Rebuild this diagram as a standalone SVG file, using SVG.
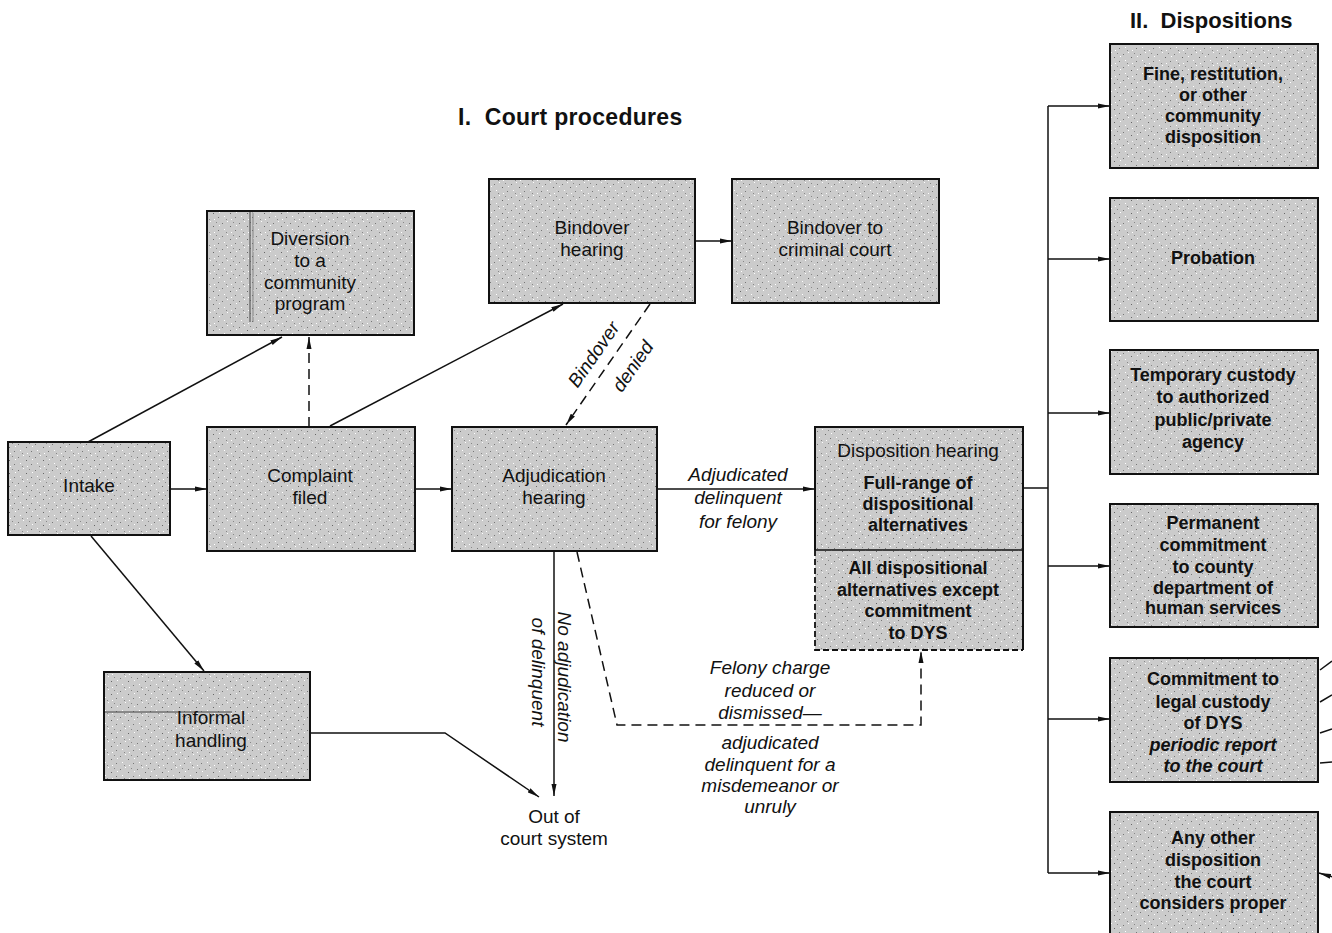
<svg xmlns="http://www.w3.org/2000/svg" width="1332" height="933" viewBox="0 0 1332 933">
<style>
.box{fill:url(#stip);stroke:#111;stroke-width:2}
.t{font-family:"Liberation Sans",Arial,sans-serif;font-size:19px;fill:#111;text-anchor:middle}
.b{font-family:"Liberation Sans",Arial,sans-serif;font-size:18px;font-weight:bold;fill:#111;text-anchor:middle}
.bi{font-style:italic}
.i{font-family:"Liberation Sans",Arial,sans-serif;font-size:19px;font-style:italic;fill:#111;text-anchor:middle}
.h{font-family:"Liberation Sans",Arial,sans-serif;font-size:23px;font-weight:bold;fill:#111;letter-spacing:0.3px;white-space:pre}
.h2{font-size:22px;letter-spacing:0}
.c{fill:none;stroke:#111;stroke-width:1.5}
.d{fill:none;stroke:#111;stroke-width:1.5;stroke-dasharray:10 6}
</style>
<defs>
<pattern id="stip" width="17" height="13" patternUnits="userSpaceOnUse">
<rect width="17" height="13" fill="#cbcbcb"/>
<rect x="1" y="2" width="1" height="1" fill="#777"/>
<rect x="6" y="0" width="1" height="1" fill="#fff"/>
<rect x="9" y="5" width="1" height="1" fill="#666"/>
<rect x="14" y="9" width="1" height="1" fill="#777"/>
<rect x="3" y="8" width="1" height="1" fill="#fff"/>
<rect x="12" y="1" width="1" height="1" fill="#888"/>
<rect x="5" y="11" width="1" height="1" fill="#888"/>
<rect x="15" y="4" width="1" height="1" fill="#fff"/>
<rect x="10" y="11" width="1" height="1" fill="#fff"/>
</pattern>
<marker id="ar" viewBox="0 0 12 6" refX="12" refY="3" markerWidth="12" markerHeight="6" markerUnits="userSpaceOnUse" orient="auto">
<path d="M0,0.5 L12,3 L0,5.5 Z" fill="#111"/>
</marker>
</defs>
<rect width="1332" height="933" fill="#fff"/>

<text class="h" x="458" y="125" xml:space="preserve">I.  Court procedures</text>
<text class="h h2" x="1130" y="28" xml:space="preserve">II.  Dispositions</text>

<g id="connectors">
<line class="c" x1="88" y1="442" x2="282" y2="337" marker-end="url(#ar)"/>
<line class="d" x1="309" y1="427" x2="309" y2="337" marker-end="url(#ar)"/>
<line class="c" x1="170" y1="489" x2="207" y2="489" marker-end="url(#ar)"/>
<line class="c" x1="415" y1="489" x2="452" y2="489" marker-end="url(#ar)"/>
<line class="c" x1="330" y1="426" x2="563" y2="304" marker-end="url(#ar)"/>
<line class="c" x1="695" y1="241" x2="732" y2="241" marker-end="url(#ar)"/>
<line class="d" x1="650" y1="304" x2="566" y2="425" marker-end="url(#ar)"/>
<line class="c" x1="657" y1="489" x2="815" y2="489" marker-end="url(#ar)"/>
<line class="c" x1="554" y1="551" x2="554" y2="796" marker-end="url(#ar)"/>
<polyline class="c" points="310,733 445,733 539,797" marker-end="url(#ar)"/>
<line class="c" x1="91" y1="536" x2="204" y2="671" marker-end="url(#ar)"/>
<polyline class="d" points="577,552 617,725 921,725 921,651" marker-end="url(#ar)"/>
<polyline class="c" points="1023,488 1048,488"/>
<line class="c" x1="1048" y1="106" x2="1048" y2="873"/>
<line class="c" x1="1048" y1="106" x2="1110" y2="106" marker-end="url(#ar)"/>
<line class="c" x1="1048" y1="259" x2="1110" y2="259" marker-end="url(#ar)"/>
<line class="c" x1="1048" y1="413" x2="1110" y2="413" marker-end="url(#ar)"/>
<line class="c" x1="1048" y1="566" x2="1110" y2="566" marker-end="url(#ar)"/>
<line class="c" x1="1048" y1="719" x2="1110" y2="719" marker-end="url(#ar)"/>
<line class="c" x1="1048" y1="873" x2="1110" y2="873" marker-end="url(#ar)"/>
<line class="c" x1="1320" y1="670" x2="1332" y2="661"/>
<line class="c" x1="1320" y1="702" x2="1332" y2="695"/>
<line class="c" x1="1320" y1="733" x2="1332" y2="729"/>
<line class="c" x1="1320" y1="763" x2="1332" y2="762"/>
<line class="c" x1="1336" y1="878" x2="1319" y2="873" marker-end="url(#ar)"/>
</g>

<g id="diversion">
<rect class="box" x="207" y="211" width="207" height="124"/>
<line x1="250" y1="212" x2="250" y2="322" stroke="#444" stroke-width="1"/>
<line x1="253" y1="212" x2="253" y2="322" stroke="#666" stroke-width="0.7"/>
<text class="t" x="310" y="245">Diversion</text>
<text class="t" x="310" y="267">to a</text>
<text class="t" x="310" y="289">community</text>
<text class="t" x="310" y="310">program</text>
</g>

<g id="intake">
<rect class="box" x="8" y="442" width="162" height="93"/>
<text class="t" x="89" y="492">Intake</text>
</g>

<g id="complaint">
<rect class="box" x="207" y="427" width="208" height="124"/>
<text class="t" x="310" y="482">Complaint</text>
<text class="t" x="310" y="504">filed</text>
</g>

<g id="adjudication">
<rect class="box" x="452" y="427" width="205" height="124"/>
<text class="t" x="554" y="482">Adjudication</text>
<text class="t" x="554" y="504">hearing</text>
</g>

<g id="bindover-hearing">
<rect class="box" x="489" y="179" width="206" height="124"/>
<text class="t" x="592" y="234">Bindover</text>
<text class="t" x="592" y="256">hearing</text>
</g>

<g id="bindover-criminal">
<rect class="box" x="732" y="179" width="207" height="124"/>
<text class="t" x="835" y="234">Bindover to</text>
<text class="t" x="835" y="256">criminal court</text>
</g>

<g id="disposition-hearing">
<rect x="815" y="427" width="208" height="223" fill="url(#stip)"/>
<path d="M815,550 V427 H1023 V650" fill="none" stroke="#111" stroke-width="2"/>
<line x1="815" y1="550" x2="1023" y2="550" stroke="#111" stroke-width="1.5"/>
<path d="M815,550 V650 H1023" fill="none" stroke="#111" stroke-width="1.8" stroke-dasharray="6 3"/>
<text class="t" x="918" y="457">Disposition hearing</text>
<text class="b" x="918" y="489">Full-range of</text>
<text class="b" x="918" y="510">dispositional</text>
<text class="b" x="918" y="531">alternatives</text>
<text class="b" x="918" y="574">All dispositional</text>
<text class="b" x="918" y="596">alternatives except</text>
<text class="b" x="918" y="617">commitment</text>
<text class="b" x="918" y="639">to DYS</text>
</g>

<g id="informal">
<rect class="box" x="104" y="672" width="206" height="108"/>
<line x1="105" y1="712" x2="232" y2="712" stroke="#444" stroke-width="1"/>
<text class="t" x="211" y="724">Informal</text>
<text class="t" x="211" y="747">handling</text>
</g>

<g id="out-of-court">
<text class="t" x="554" y="823">Out of</text>
<text class="t" x="554" y="845">court system</text>
</g>

<g id="labels">
<text class="i" x="738" y="481">Adjudicated</text>
<text class="i" x="738" y="504">delinquent</text>
<text class="i" x="738" y="528">for felony</text>
<text class="i" transform="translate(558,677) rotate(90)" x="0" y="0">No adjudication</text>
<text class="i" transform="translate(532,672) rotate(90)" x="0" y="0">of delinquent</text>
<text class="i" transform="translate(599,358) rotate(-55)" x="0" y="0">Bindover</text>
<text class="i" transform="translate(638,370) rotate(-55)" x="0" y="0">denied</text>
<text class="i" x="770" y="674">Felony charge</text>
<text class="i" x="770" y="697">reduced or</text>
<text class="i" x="770" y="719">dismissed—</text>
<text class="i" x="770" y="749">adjudicated</text>
<text class="i" x="770" y="771">delinquent for a</text>
<text class="i" x="770" y="792">misdemeanor or</text>
<text class="i" x="770" y="813">unruly</text>
</g>

<g id="disp-fine">
<rect class="box" x="1110" y="44" width="208" height="124"/>
<text class="b" x="1213" y="80">Fine, restitution,</text>
<text class="b" x="1213" y="101">or other</text>
<text class="b" x="1213" y="122">community</text>
<text class="b" x="1213" y="143">disposition</text>
</g>

<g id="disp-probation">
<rect class="box" x="1110" y="198" width="208" height="123"/>
<text class="b" x="1213" y="264">Probation</text>
</g>

<g id="disp-temporary">
<rect class="box" x="1110" y="350" width="208" height="124"/>
<text class="b" x="1213" y="381">Temporary custody</text>
<text class="b" x="1213" y="403">to authorized</text>
<text class="b" x="1213" y="426">public/private</text>
<text class="b" x="1213" y="448">agency</text>
</g>

<g id="disp-permanent">
<rect class="box" x="1110" y="504" width="208" height="123"/>
<text class="b" x="1213" y="529">Permanent</text>
<text class="b" x="1213" y="551">commitment</text>
<text class="b" x="1213" y="573">to county</text>
<text class="b" x="1213" y="594">department of</text>
<text class="b" x="1213" y="614">human services</text>
</g>

<g id="disp-dys">
<rect class="box" x="1110" y="658" width="208" height="124"/>
<text class="b" x="1213" y="685">Commitment to</text>
<text class="b" x="1213" y="708">legal custody</text>
<text class="b" x="1213" y="729">of DYS</text>
<text class="b bi" x="1213" y="751">periodic report</text>
<text class="b bi" x="1213" y="772">to the court</text>
</g>

<g id="disp-other">
<rect class="box" x="1110" y="812" width="208" height="130"/>
<text class="b" x="1213" y="844">Any other</text>
<text class="b" x="1213" y="866">disposition</text>
<text class="b" x="1213" y="888">the court</text>
<text class="b" x="1213" y="909">considers proper</text>
</g>
</svg>
